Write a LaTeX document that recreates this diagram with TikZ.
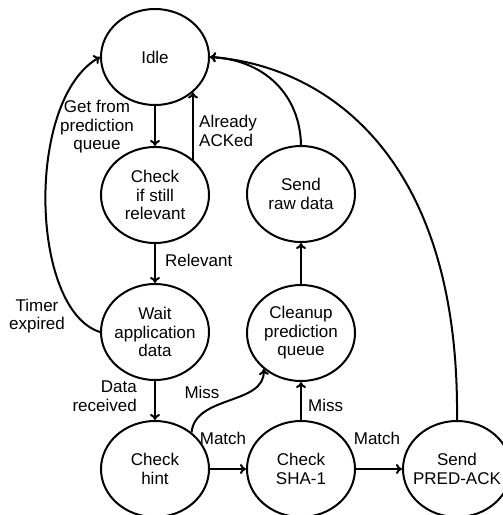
\documentclass[tikz,border=0pt]{standalone}
\usepackage{fontspec}
\setmainfont{Liberation Sans}
\usetikzlibrary{shapes.geometric,arrows.meta}
\tikzset{
  state/.style={ellipse, draw, line width=2pt, minimum width=108pt, minimum height=96pt,
    inner xsep=-20pt, inner ysep=0pt, align=center, font=\fontsize{17}{18.5}\selectfont},
  lbl/.style={inner sep=0pt, font=\fontsize{17}{18.5}\selectfont},
  arr/.style={line width=2pt, -{To[length=6pt,width=10pt]}},
  wire/.style={line width=2pt}
}
\begin{document}
\begin{tikzpicture}[x=1pt,y=-1pt]
\useasboundingbox (0,0) rectangle (503,515);
\clip (0,0) rectangle (503,515);

% states
\node[state] (idle)  at (155,57)  {Idle};
\node[state] (check) at (155,195) {Check\\if still\\relevant};
\node[state] (wait)  at (155,332) {Wait\\application\\data};
\node[state] (hint)  at (155,469) {Check\\hint};
\node[state] (sha)   at (301,469) {Check\\SHA-1};
\node[state] (pred)  at (457,469) {Send\\PRED-ACK};
\node[state] (clean) at (301,333) {Cleanup\\prediction\\queue};
\node[state] (raw)   at (301,194) {Send\\raw data};

% transitions
\draw[arr] (idle) -- (check);
\draw[arr] (check.43) -- (idle.-43);
\draw[arr] (check) -- (wait);
\draw[arr] (wait) -- (hint);
\draw[arr] (hint) -- (sha);
\draw[arr] (sha) -- (pred);
\draw[arr] (sha) -- (clean);
\draw[arr] (clean) -- (raw);
\draw[arr] (wait.west) .. controls (30,310) and (25,100) .. (idle.west);
\draw[arr] (raw.north) .. controls (300,95) and (265,60) .. (idle.east);
\draw[arr] (pred.north) .. controls (460,150) and (320,65) .. (idle.east);
\draw[arr] (hint.45) .. controls (195,395) and (265,405) .. (clean.-136);

% transition labels
\node[lbl, align=center] (lget) at (97,127) {Get from\\prediction\\queue};
\node[lbl, align=left, anchor=west] (lack) at (199,131) {Already\\ACKed};
\node[lbl, anchor=west] (lrel) at (165,260) {Relevant};
\node[lbl, align=center] (ltim) at (37,316) {Timer\\expired};
\node[lbl, align=right, anchor=east] (ldat) at (137,396) {Data\\received};
\node[lbl] (lmiss1) at (202,392) {Miss};
\node[lbl] (lmat1) at (223,438) {Match};
\node[lbl, anchor=west] (lmiss2) at (308,405) {Miss};
\node[lbl] (lmat2) at (377,438) {Match};
\end{tikzpicture}
\end{document}
